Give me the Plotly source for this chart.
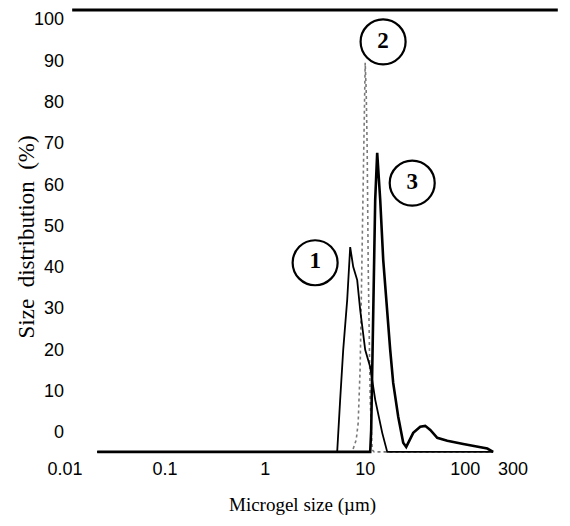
import plotly.graph_objects as go

# ---- data ----
curve1_size = [0.021, 5.25, 5.62, 6.03, 6.61, 7.08, 7.59, 8.32, 8.91, 10.0, 11.2, 12.6, 14.8, 16.6, 190]
curve1_dist = [0, 0, 12.6, 24.7, 36.8, 49.6, 44.8, 41.6, 34.4, 24.7, 20.6, 12.6, 4.6, 0, 0]

curve2_size = [0.021, 7.41, 8.13, 8.51, 8.91, 9.33, 9.55, 9.77, 10.0, 10.23, 10.47, 10.72, 11.22, 11.75, 12.3, 190]
curve2_dist = [0, 0, 2.9, 7.0, 20.6, 53.0, 73.1, 87.7, 94.2, 87.7, 73.1, 44.8, 12.6, 0.5, 0, 0]

curve3_size = [0.021, 11.22, 11.48, 11.75, 12.02, 12.59, 13.18, 13.49, 14.13, 15.14, 16.22, 17.78,
               19.05, 21.38, 23.99, 25.7, 30.2, 35.5, 39.8, 44.7, 52.5, 66.1, 95.5, 117.5, 166, 190]
curve3_dist = [0, 0, 5.3, 17.4, 36.8, 61.0, 72.4, 69.0, 61.0, 46.5, 36.8, 24.7,
               16.7, 8.5, 2.2, 1.2, 4.6, 6.1, 6.3, 5.3, 3.4, 2.7, 1.9, 1.5, 0.8, 0]

label_text = ["<b>1</b>", "<b>2</b>", "<b>3</b>"]
label_size = [3.16, 15.1, 29.5]
label_dist = [45.8, 99.3, 65.1]

x_tick_vals = [0.01, 0.1, 1, 10, 100, 300]
x_tick_text = ["0.01", "0.1", "1", "10", "100", "300"]
y_tick_text = ["0", "10", "20", "30", "40", "50", "60", "70", "80", "90", "100"]
y_label_offset = 4.8  # the printed scale sits slightly above the curve baseline

x_title = "Microgel size (µm)"
y_title = "Size  distribution  (%)"

fig = go.Figure()
fig.add_trace(go.Scatter(x=curve2_size, y=curve2_dist, mode="lines",
                         line=dict(color="#7a7a7a", width=1.6, dash="dot")))
fig.add_trace(go.Scatter(x=curve1_size, y=curve1_dist, mode="lines",
                         line=dict(color="black", width=1.8)))
fig.add_trace(go.Scatter(x=curve3_size, y=curve3_dist, mode="lines",
                         line=dict(color="black", width=2.6)))
fig.add_trace(go.Scatter(x=label_size, y=label_dist, mode="markers+text",
                         text=label_text, textposition="middle center",
                         textfont=dict(family="Liberation Serif", size=23, color="black"),
                         marker=dict(symbol="circle-open", size=45, color="black",
                                     line=dict(width=2.2, color="black")),
                         cliponaxis=False))

tick_font = dict(family="Liberation Sans", size=18, color="black")

fig.update_layout(
    width=570, height=526,
    margin=dict(l=65, r=57, t=10, b=70),
    paper_bgcolor="white", plot_bgcolor="white",
    showlegend=False,
    xaxis=dict(type="log", range=[-2, 2.4771], tickvals=x_tick_vals, ticktext=x_tick_text,
               showgrid=False, zeroline=False, showline=False, ticks="",
               tickfont=tick_font, ticklabelstandoff=0),
    yaxis=dict(range=[-1, 107],
               tickvals=[y_label_offset + 10 * i for i in range(len(y_tick_text))],
               ticktext=y_tick_text,
               showgrid=False, zeroline=False, showline=False, ticks="",
               tickfont=tick_font, ticklabelstandoff=0),
    annotations=[
        dict(text=x_title, xref="paper", yref="paper", x=0.531, y=0, yshift=-49,
             xanchor="center", yanchor="middle", showarrow=False,
             font=dict(family="Liberation Serif", size=19, color="black")),
        dict(text=y_title, xref="paper", yref="paper", x=0, y=0.49, xshift=-39,
             xanchor="center", yanchor="middle", textangle=-90, showarrow=False,
             font=dict(family="Liberation Serif", size=23, color="black")),
    ],
    shapes=[dict(type="line", xref="paper", yref="paper", x0=0.016, x1=1.10, y0=1, y1=1,
                 line=dict(color="black", width=3))],
)

fig.write_html("out.html")
